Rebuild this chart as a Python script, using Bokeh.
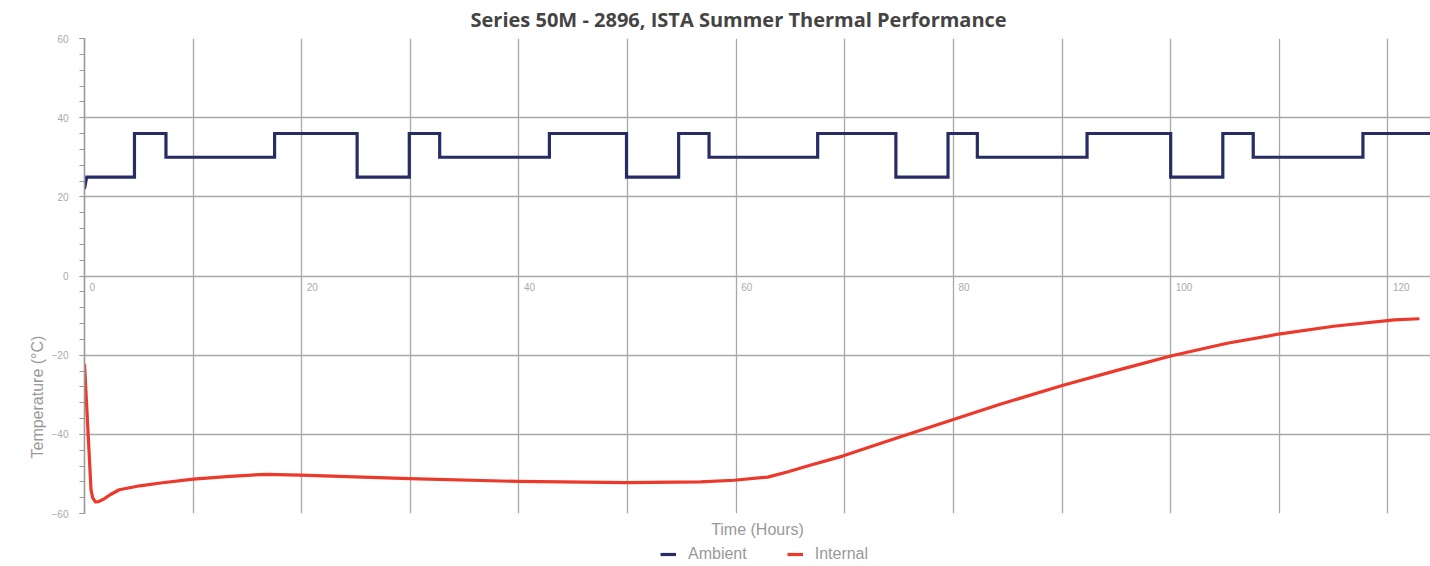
from bokeh.plotting import figure
from bokeh.layouts import column
from bokeh.models import (Range1d, SingleIntervalTicker, FixedTicker, Legend, LegendItem,
                          Title)
from bokeh.core.properties import value
from bokeh.embed import file_html
from bokeh.resources import INLINE

# ---------------- data ----------------
title_text = "Series 50M - 2896, ISTA Summer Thermal Performance"
x_title = "Time (Hours)"
y_title = "Temperature (°C)"
series_names = ["Ambient", "Internal"]

ambient_start_hours = [0.0, 0.2]
ambient_start_temps = [22, 25]
ambient_change_hours = [4.6, 7.5, 17.5, 25.1, 29.9, 32.7, 42.8, 49.9, 54.7, 57.5,
                        67.5, 74.7, 79.5, 82.2, 92.3, 100.0, 104.8, 107.6, 117.7]
ambient_levels = [36, 30, 36, 25, 36, 30, 36, 25, 36, 30,
                  36, 25, 36, 30, 36, 25, 36, 30, 36]
ambient_end_hour = 124.0

internal_hours = [0.0, 0.6, 0.75, 1.0, 1.3, 1.8, 2.4, 3.2, 5.1, 7.0, 10.0, 13.4, 16.7,
                  19.9, 29.9, 39.9, 49.9, 56.7, 59.8, 62.9, 64.7, 66.8, 69.8, 72.7,
                  75.7, 79.5, 84.3, 90.1, 95.4, 100.0, 105.2, 110.1, 115.0, 120.6, 122.9]
internal_temps = [-22.2, -54.0, -56.0, -57.1, -57.0, -56.3, -55.2, -54.0, -53.0, -52.3,
                  -51.3, -50.6, -50.1, -50.3, -51.2, -51.9, -52.2, -52.0, -51.6, -50.8,
                  -49.5, -47.8, -45.5, -42.8, -40.1, -36.7, -32.4, -27.6, -23.6, -20.2,
                  -17.0, -14.6, -12.7, -11.1, -10.8]

x_label_ticks = [0, 20, 40, 60, 80, 100, 120]
x_label_texts = ["0", "20", "40", "60", "80", "100", "120"]

# ---------------- build step path for ambient ----------------
amb_x = list(ambient_start_hours)
amb_y = list(ambient_start_temps)
cur = amb_y[-1]
for h, lev in zip(ambient_change_hours, ambient_levels):
    amb_x += [h, h]
    amb_y += [cur, lev]
    cur = lev
amb_x.append(ambient_end_hour)
amb_y.append(cur)

GRID = "#a8a8a8"
LABEL = "#aaaaaa"
TITLE_GRAY = "#999999"
FONT = "Liberation Sans"
AMB_COLOR = "#282c64"
INT_COLOR = "#ec392b"

p = figure(width=1430, height=540, x_range=Range1d(0, 123.92), y_range=Range1d(-60, 60),
           output_backend="svg", toolbar_location=None,
           min_border_left=84, min_border_right=0, min_border_top=38, min_border_bottom=27,
           outline_line_color=None)

p.title.text = title_text
p.title.align = "left"
p.title.offset = 386
p.title.vertical_align = "top"
p.title.text_font = "Open Sans"
p.title.text_font_style = "bold"
p.title.text_font_size = "20px"
p.title.text_color = "#444444"
p.title.standoff = 8

# y axis
p.yaxis.ticker = SingleIntervalTicker(interval=20, num_minor_ticks=5)
p.yaxis.major_label_text_font = FONT
p.yaxis.major_label_text_font_size = "10px"
p.yaxis.major_label_text_color = LABEL
p.yaxis.major_label_standoff = 11
p.yaxis.axis_line_color = "#999999"
p.yaxis.axis_line_width = 1.6
p.yaxis.major_tick_in = 0
p.yaxis.major_tick_out = 5
p.yaxis.minor_tick_in = 0
p.yaxis.minor_tick_out = 5
p.yaxis.major_tick_line_color = "#999999"
p.yaxis.minor_tick_line_color = "#999999"
p.yaxis.major_tick_line_width = 1.2
p.yaxis.minor_tick_line_width = 1.2

# y axis title, placed toward the lower part of the left side
p.add_layout(Title(text=y_title, align="left", offset=55, standoff=6,
                   text_font=FONT, text_font_style="normal", text_font_size="16px",
                   text_color=TITLE_GRAY), "left")

# x axis (title only; tick labels drawn along the zero line)
p.xaxis.ticker = FixedTicker(ticks=[])
p.xaxis.axis_line_color = None
p.xaxis.major_tick_line_color = None
p.xaxis.minor_tick_line_color = None
p.xaxis.major_tick_out = 0
p.xaxis.minor_tick_out = 0
p.xaxis.major_label_standoff = 0
p.xaxis.axis_label = x_title
p.xaxis.axis_label_text_font = FONT
p.xaxis.axis_label_text_font_style = "normal"
p.xaxis.axis_label_text_font_size = "16px"
p.xaxis.axis_label_text_color = TITLE_GRAY
p.xaxis.axis_label_standoff = 7

p.xgrid.ticker = SingleIntervalTicker(interval=10, num_minor_ticks=0)
p.xgrid.grid_line_color = GRID
p.xgrid.grid_line_width = 1.3
p.ygrid.grid_line_color = GRID
p.ygrid.grid_line_width = 1.3

# x tick labels along the zero line
p.text(x=x_label_ticks, y=[0] * len(x_label_ticks), text=x_label_texts,
       text_font=value(FONT), text_font_size="10px", text_color=LABEL,
       text_align="left", text_baseline="top", x_offset=5, y_offset=7)

r_amb = p.line(amb_x, amb_y, line_color=AMB_COLOR, line_width=3.2, line_join="miter")
r_int = p.line(internal_hours, internal_temps, line_color=INT_COLOR, line_width=3.2,
               line_join="round")

# ---------------- legend strip below the chart ----------------
# (same series, drawn outside this strip's view so only the legend keys show)
lg = figure(width=1430, height=26, x_range=Range1d(0, 1), y_range=Range1d(0, 1),
            output_backend="svg", toolbar_location=None,
            min_border_left=0, min_border_right=0, min_border_top=0, min_border_bottom=0,
            outline_line_color=None)
lg.axis.visible = False
lg.grid.visible = False
k_amb = lg.line(amb_x, amb_y, line_color=AMB_COLOR, line_width=3.2)
k_int = lg.line(internal_hours, internal_temps, line_color=INT_COLOR, line_width=3.2)
legend = Legend(items=[LegendItem(label=series_names[0], renderers=[k_amb]),
                       LegendItem(label=series_names[1], renderers=[k_int])],
                orientation="horizontal", location=(576, 3),
                label_text_font=FONT, label_text_font_size="16px",
                label_text_color=TITLE_GRAY, glyph_width=16, glyph_height=16,
                label_standoff=12, spacing=40, padding=0, margin=0,
                border_line_color=None, background_fill_alpha=0)
lg.add_layout(legend, "center")

open("out.html", "w").write(file_html(column(p, lg, spacing=0), INLINE))
